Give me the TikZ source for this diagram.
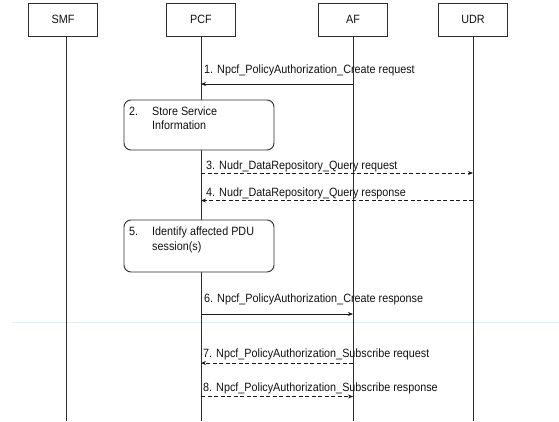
\documentclass[tikz,border=0pt]{standalone}
\usepackage{fontspec}
\setmainfont{Liberation Sans}[FakeStretch=0.9]
\usetikzlibrary{arrows.meta, calc}
\definecolor{linegray}{HTML}{2E2E2E}
\definecolor{textgray}{HTML}{111111}
\definecolor{faintcyan}{HTML}{DDF0F0}

\begin{document}
\begin{tikzpicture}[x=1pt, y=-1pt,
    every node/.style={font=\fontsize{12}{14}\selectfont, text=textgray},
    entity/.style={rectangle, draw=linegray, minimum width=69pt, minimum height=33pt,
                   inner sep=0pt, line width=0.9pt},
    life/.style={draw=linegray, line width=0.9pt},
    action/.style={rectangle, rounded corners=7pt, draw=linegray, fill=white,
                   minimum width=150pt, line width=0.9pt},
    lbl/.style={anchor=base west, inner sep=0pt},
    msg/.style={-{Stealth[length=5pt, width=4pt]}, line width=1pt, draw=black!90},
    reply/.style={msg, dash pattern=on 4pt off 2.5pt}
]
    \useasboundingbox (0,0) rectangle (559,421);
    \draw[faintcyan, line width=1pt] (12,322) -- (559,322);

    % entities and lifelines
    \node[entity] (smf) at (63,19.5)  {SMF};
    \node[entity] (pcf) at (201,19.5) {PCF};
    \node[entity] (af)  at (353,19.5) {AF};
    \node[entity] (udr) at (473,19.5) {UDR};
    \coordinate (smfend) at (66,421);
    \draw[life] (smf.south -| smfend) -- (smfend);
    \foreach \n in {pcf, af, udr}
        \draw[life] (\n.south) -- (\n.south |- smfend);

    % 1
    \draw[msg] (af |- 0,84) -- (pcf |- 0,84);
    \node[lbl] (m1) at (204,73.5) {1. Npcf\_PolicyAuthorization\_Create request};

    % 2
    \node[action, minimum height=50pt] (store) at (199,125) {};
    \node[lbl] (storetxt) at (129,115)
        {\begin{tabular}[t]{@{}p{23pt}@{}l@{}}2. & Store Service\\ & Information\end{tabular}};

    % 3, 4
    \draw[reply] (pcf |- 0,173) -- (udr |- 0,173);
    \node[lbl] (m3) at (206,169.5) {3. Nudr\_DataRepository\_Query request};
    \draw[reply] (udr |- 0,200.5) -- (pcf |- 0,200.5);
    \node[lbl] (m4) at (206,196) {4. Nudr\_DataRepository\_Query response};

    % 5
    \node[action, minimum height=52pt] (ident) at (199,246) {};
    \node[lbl] (identtxt) at (129,235)
        {\begin{tabular}[t]{@{}p{23pt}@{}l@{}}5. & Identify affected PDU\\[1pt] & session(s)\end{tabular}};

    % 6
    \draw[msg] (pcf |- 0,314) -- (af |- 0,314);
    \node[lbl] (m6) at (204,302) {6. Npcf\_PolicyAuthorization\_Create response};

    % 7, 8
    \draw[reply] (af |- 0,363) -- (pcf |- 0,363);
    \node[lbl] (m7) at (203,357.5) {7. Npcf\_PolicyAuthorization\_Subscribe request};
    \draw[reply] (pcf |- 0,396.5) -- (af |- 0,396.5);
    \node[lbl] (m8) at (203,391) {8. Npcf\_PolicyAuthorization\_Subscribe response};
\end{tikzpicture}
\end{document}
